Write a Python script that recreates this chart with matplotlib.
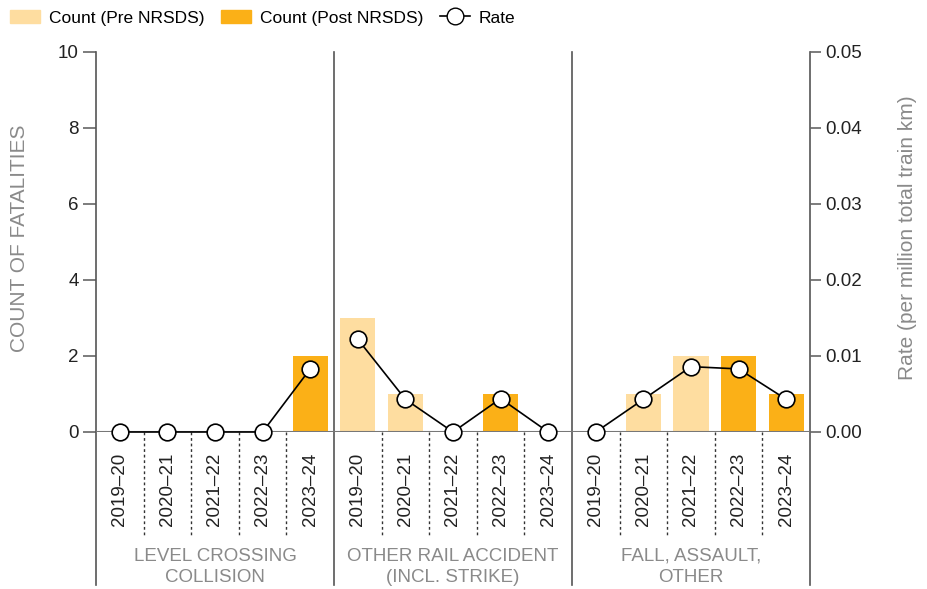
import matplotlib
matplotlib.use("Agg")
import matplotlib.pyplot as plt
import matplotlib.transforms as mtransforms
from matplotlib.patches import Patch
from matplotlib.lines import Line2D

plt.rcParams['font.family'] = ['Liberation Sans', 'DejaVu Sans']

# data
years = ['2019–20', '2020–21', '2021–22', '2022–23', '2023–24']
post_nrsds = [False, False, False, True, True]
groups = ['LEVEL CROSSING\nCOLLISION', 'OTHER RAIL ACCIDENT\n(INCL. STRIKE)', 'FALL, ASSAULT,\nOTHER']

level_crossing_counts = [0, 0, 0, 0, 2]
other_rail_counts = [3, 1, 0, 1, 0]
fall_assault_counts = [0, 1, 2, 2, 1]

level_crossing_rate = [0, 0, 0, 0, 0.0083]
other_rail_rate = [0.0122, 0.0043, 0, 0.0044, 0]
fall_assault_rate = [0, 0.0043, 0.0086, 0.0083, 0.0043]

all_counts = [level_crossing_counts, other_rail_counts, fall_assault_counts]
all_rates = [level_crossing_rate, other_rail_rate, fall_assault_rate]

pre_col = '#FEDDA0'
post_col = '#FBB017'
grey_txt = '#8a8a8a'
axis_col = '#555555'
fs = 13.5

fig = plt.figure(figsize=(9.28, 5.89), dpi=100)
ax = fig.add_axes([96 / 928, 157 / 589, 714 / 928, 380 / 589])
ax2 = ax.twinx()

n = len(years)
ax.set_xlim(0, n * len(groups))
ax.set_ylim(0, 10)
ax2.set_ylim(0, 0.05)

tick_pos = []
tick_lab = []
for g, (counts, rates) in enumerate(zip(all_counts, all_rates)):
    xs = [g * n + i + 0.5 for i in range(n)]
    cols = [post_col if p else pre_col for p in post_nrsds]
    ax.bar(xs, counts, width=0.74, color=cols, zorder=2)
    ax2.plot(xs, rates, color='black', lw=1.2, marker='o', markersize=12,
             markerfacecolor='white', markeredgecolor='black', markeredgewidth=1.2,
             clip_on=False, zorder=5)
    tick_pos += xs
    tick_lab += years

trans = mtransforms.blended_transform_factory(ax.transData, ax.transAxes)

# separators below the axis
for k in range(1, n * len(groups)):
    if k % n == 0:
        ax.plot([k, k], [1.0, -0.403], color=axis_col, lw=1.2, transform=trans, clip_on=False, zorder=3)
    else:
        ax.plot([k, k], [0, -0.272], color='#333333', lw=1.0, ls=(0, (2, 2)), transform=trans, clip_on=False)
for k in [0, n * len(groups)]:
    ax.plot([k, k], [1.0, -0.403], color=axis_col, lw=1.2, transform=trans, clip_on=False, zorder=3)

ax.axhline(0, color='#777777', lw=1.5, zorder=3)

for g, name in enumerate(groups):
    ax.text(g * n + n / 2, -0.305, name, transform=trans, ha='center', va='top',
            fontsize=fs, color=grey_txt, linespacing=1.3)

for s in ['top', 'bottom', 'left', 'right']:
    ax.spines[s].set_visible(False)
    ax2.spines[s].set_visible(False)

ax.set_xticks(tick_pos)
ax.set_xticklabels(tick_lab, rotation=90, fontsize=fs, color='#222222')
ax.tick_params(axis='x', length=0, pad=15)
ax.set_yticks(range(0, 11, 2))
ax.tick_params(axis='y', length=9.5, width=1.2, color='#666666', labelsize=fs, labelcolor='#222222', pad=3)
ax2.set_yticks([0, 0.01, 0.02, 0.03, 0.04, 0.05])
ax2.set_yticklabels(['%.2f' % v for v in [0, 0.01, 0.02, 0.03, 0.04, 0.05]])
ax2.tick_params(axis='y', length=8, width=1.2, color='#666666', labelsize=fs, labelcolor='#222222', pad=3)

fig.text(20 / 928, 1 - 238 / 589, 'COUNT OF FATALITIES', rotation=90, ha='center', va='center',
         fontsize=15, color=grey_txt)
fig.text(908 / 928, 1 - 238 / 589, 'Rate (per million total train km)', rotation=90, ha='center',
         va='center', fontsize=15, color=grey_txt)

handles = [Patch(color=pre_col), Patch(color=post_col),
           Line2D([], [], color='black', lw=1.2, marker='o', markersize=12,
                  markerfacecolor='white', markeredgecolor='black')]
fig.legend(handles, ['Count (Pre NRSDS)', 'Count (Post NRSDS)', 'Rate'], loc='upper left',
           bbox_to_anchor=(0.0, 1.0), ncol=3, frameon=False, fontsize=12.5,
           handlelength=1.7, handletextpad=0.5, columnspacing=1.0, borderaxespad=0.2)

fig.savefig('out.png', dpi=100)
